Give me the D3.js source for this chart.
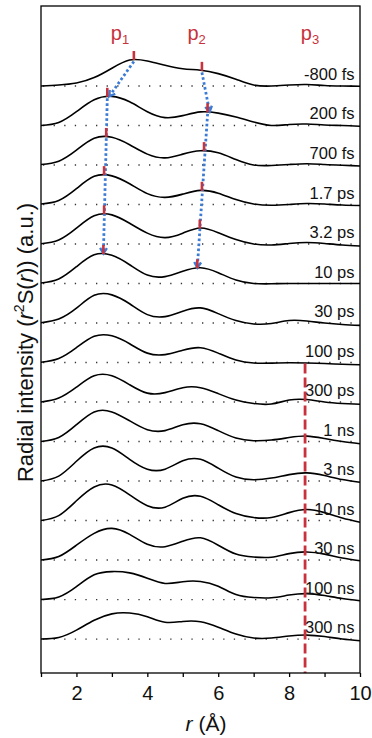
<!DOCTYPE html>
<html>
<head>
<meta charset="utf-8">
<script src="https://cdn.jsdelivr.net/npm/d3@7"></script>
<style>
  body { margin: 0; background: #fff; }
  svg { display: block; font-family: "Liberation Sans", Arial, sans-serif; }
</style>
</head>
<body>
<div id="chart"></div>
<script>
// r grid (Å)
const rValues = [1, 1.5, 2, 2.5, 3, 3.5, 4, 4.5, 5, 5.5, 6, 6.5, 7, 7.5, 8, 8.5, 9, 9.5, 10];

// delay labels, top to bottom
const delayLabels = ['-800 fs', '200 fs', '700 fs', '1.7 ps', '3.2 ps', '10 ps', '30 ps', '100 ps',
  '300 ps', '1 ns', '3 ns', '10 ns', '30 ns', '100 ns', '300 ns'];

// r^2 S(r) per delay (a.u., relative to each trace's own baseline)
const sNeg800fs = [0, 1, 3, 8.5, 18, 26.3, 25.3, 21, 17.5, 16, 12.5, 6.8, 1, 0, 1, 1.5, 0.5, 0, -0.3];
const s200fs = [0, 3, 14, 26, 29.5, 24, 14, 8, 10, 13.8, 12.5, 8.5, 3.5, 0, 1, 1.5, 0.5, 0, -0.7];
const s700fs = [0.5, 3.8, 15, 27, 28, 20.5, 11, 7.2, 11, 14.5, 12.3, 5.5, 0, -0.5, 0.5, 1.3, 0.5, -0.3, -1];
const s1p7ps = [0.5, 4, 16, 28.5, 29, 21, 11, 7.2, 10.5, 14.3, 11.5, 5, 0.5, -0.8, 0, 1, 0.5, -0.5, -1];
const s3p2ps = [0.3, 4, 16, 28.5, 29.5, 21, 11, 6.5, 11, 16.2, 11.5, 4.5, 0, -1, 0.5, 1.5, 0.5, -1, -2];
const s10ps = [0.5, 4.5, 17, 29, 28.5, 19, 8.5, 7, 12.5, 16, 11, 3.5, 0, -0.3, 0, 0, 0, 0, 0];
const s30ps = [0.3, 4, 15, 28, 28.5, 19.5, 8.5, 6.5, 12, 15.3, 9.5, 2.5, -1, -0.5, 2.5, 2, 0, -1.5, -2.4];
const s100ps = [0.3, 4, 15, 26.5, 27, 19, 9.5, 8, 12.5, 15, 9.5, 2.5, -0.5, -0.6, -0.3, -0.5, -1, -1.8, -2.3];
const s300ps = [0, 4, 15, 26.5, 26.5, 17.5, 9, 9.5, 14.5, 14.5, 8.5, 2, -1.5, -2, 2, 2.5, 0, -1.5, -2.3];
const s1ns = [0, 4, 17, 30, 30, 21, 12, 11, 17, 18, 11, 3.5, 0.8, 1.5, 4, 5.5, 3, 0, -2.3];
const s3ns = [0, 5, 20, 33.5, 33.5, 22, 12, 12, 20.5, 22, 13, 4, 1.3, 3, 6.5, 8.2, 5.5, 1.5, -1.3];
const s10ns = [0, 5, 20, 34, 36, 26, 15, 13.5, 22.5, 24.5, 16, 7, 3, 3, 8, 11.2, 8, 2.5, -1.7];
const s30ns = [0, 3.5, 15, 27, 32, 26, 16, 13.5, 19, 22.5, 15, 6, 3, 2.8, 6.5, 8.2, 6, 2, -0.7];
const s100ns = [0, 2.5, 13, 25, 28.3, 27, 21.5, 16.3, 18, 18.3, 13.5, 5, 2, 1.8, 4.5, 6, 4, 1, -1.3];
const s300ns = [0, 1.5, 9, 19, 25.5, 26.3, 22.5, 17, 17.8, 17.5, 12, 5, 1, 1, 3, 4, 2.5, 0, -1.7];

const traces = [sNeg800fs, s200fs, s700fs, s1p7ps, s3p2ps, s10ps, s30ps, s100ps,
  s300ps, s1ns, s3ns, s10ns, s30ns, s100ns, s300ns];

// vertical offset between traces (a.u.)
const traceStep = 40;

// peak positions (Å) marked on the first six traces
const p1Peaks = [3.62, 2.87, 2.84, 2.78, 2.78, 2.76];
const p2Peaks = [5.54, 5.7, 5.6, 5.54, 5.48, 5.41];
const p3Line = 8.45;
const peakNames = ['p', 'p', 'p'];
const peakSubs = ['1', '2', '3'];
const peakLabelR = [3.23, 5.39, 8.59];

const xTicks = [1, 2, 3, 4, 5, 6, 7, 8, 9, 10];
const xTickLabels = [2, 4, 6, 8, 10];

const width = 372, height = 738;
const plotLeft = 41, plotRight = 360, plotTop = 6, plotBottom = 673;
const red = '#c8323c', blue = '#3b7bd4';

const svg = d3.select('#chart').append('svg')
  .attr('width', width)
  .attr('height', height);

const x = d3.scaleLinear().domain([1, 10]).range([plotLeft, plotRight]);
const y = d3.scaleLinear().domain([-34.4, 641]).range([plotBottom, plotTop]);

const n = traces.length;
const offsetOf = (i) => (n - 1 - i) * traceStep;

// dotted baselines
svg.append('g')
  .selectAll('line')
  .data(traces)
  .enter()
  .append('line')
  .attr('x1', x(1) + 2)
  .attr('x2', x(10))
  .attr('y1', (d, i) => y(offsetOf(i)))
  .attr('y2', (d, i) => y(offsetOf(i)))
  .attr('stroke', '#333')
  .attr('stroke-width', 1.3)
  .attr('stroke-dasharray', '1.3,9.3');

// traces
const line = d3.line()
  .x((d) => x(d[0]))
  .y((d) => y(d[1]))
  .curve(d3.curveNatural);

const paths = svg.append('g')
  .selectAll('path')
  .data(traces)
  .enter()
  .append('path')
  .attr('d', (d, i) => line(d.map((v, k) => [rValues[k], v + offsetOf(i)])))
  .attr('fill', 'none')
  .attr('stroke', '#000')
  .attr('stroke-width', 1.6);

// find the y of a drawn trace at a given pixel x
function yOnTrace(i, px) {
  const node = paths.nodes()[i];
  let lo = 0, hi = node.getTotalLength();
  for (let it = 0; it < 40; it++) {
    const mid = (lo + hi) / 2;
    if (node.getPointAtLength(mid).x < px) lo = mid; else hi = mid;
  }
  return node.getPointAtLength(lo).y;
}

// delay labels
svg.append('g')
  .selectAll('text')
  .data(delayLabels)
  .enter()
  .append('text')
  .attr('x', 354.5)
  .attr('y', (d, i) => y(offsetOf(i)) - 6)
  .attr('text-anchor', 'end')
  .attr('font-size', 16.5)
  .attr('fill', '#111')
  .text((d) => d);

// blue dotted arrows between peak markers
function arrow(x1, y1, x2, y2) {
  const g = svg.append('g');
  const ang = Math.atan2(y2 - y1, x2 - x1);
  g.append('line')
    .attr('x1', x1).attr('y1', y1)
    .attr('x2', x2 - 2 * Math.cos(ang)).attr('y2', y2 - 2 * Math.sin(ang))
    .attr('stroke', blue)
    .attr('stroke-width', 2.8)
    .attr('stroke-dasharray', '2.6,2.4');
  const a = 6.5, spread = 0.55;
  g.append('path')
    .attr('d', `M${x2 - a * Math.cos(ang - spread)},${y2 - a * Math.sin(ang - spread)}L${x2},${y2}L${x2 - a * Math.cos(ang + spread)},${y2 - a * Math.sin(ang + spread)}`)
    .attr('fill', 'none')
    .attr('stroke', blue)
    .attr('stroke-width', 2.4);
}

[p1Peaks, p2Peaks].forEach((peaks) => {
  const last = peaks.length - 1;
  const pts = peaks.map((r, i) => [x(r), yOnTrace(i, x(r))]);
  arrow(pts[0][0], pts[0][1] + 2, pts[1][0] + 2, pts[1][1]);
  arrow(pts[1][0], pts[1][1] + 2, pts[last][0], pts[last][1]);
});

// red peak markers
[p1Peaks, p2Peaks].forEach((peaks) => {
  svg.append('g')
    .selectAll('line')
    .data(peaks)
    .enter()
    .append('line')
    .attr('x1', (d) => x(d))
    .attr('x2', (d) => x(d))
    .attr('y1', (d, i) => yOnTrace(i, x(d)) + 0.5)
    .attr('y2', (d, i) => yOnTrace(i, x(d)) - 8.5)
    .attr('stroke', red)
    .attr('stroke-width', 2.6);
});

// p3 dashed line from the 100 ps trace down
svg.append('line')
  .attr('x1', x(p3Line))
  .attr('x2', x(p3Line))
  .attr('y1', y(offsetOf(7)) + 1)
  .attr('y2', plotBottom)
  .attr('stroke', red)
  .attr('stroke-width', 2.8)
  .attr('stroke-dasharray', '10,4');

// peak names
const pText = svg.append('g')
  .selectAll('text')
  .data(peakNames)
  .enter()
  .append('text')
  .attr('x', (d, i) => x(peakLabelR[i]))
  .attr('y', 40)
  .attr('text-anchor', 'middle')
  .attr('font-size', 20)
  .attr('fill', red);
pText.append('tspan').text((d) => d);
pText.append('tspan')
  .attr('font-size', 13)
  .attr('dy', 4)
  .text((d, i) => peakSubs[i]);

// frame
svg.append('rect')
  .attr('x', plotLeft)
  .attr('y', plotTop)
  .attr('width', plotRight - plotLeft)
  .attr('height', plotBottom - plotTop)
  .attr('fill', 'none')
  .attr('stroke', '#000')
  .attr('stroke-width', 1.3);

// x axis
const xAxis = svg.append('g')
  .attr('transform', `translate(0,${plotBottom})`)
  .call(d3.axisBottom(x)
    .tickValues(xTicks)
    .tickSize(4)
    .tickPadding(9)
    .tickFormat((d) => (xTickLabels.includes(d) ? d : '')));
xAxis.select('.domain').remove();
xAxis.selectAll('line').attr('stroke', '#000').attr('stroke-width', 1.3);
xAxis.selectAll('text')
  .attr('font-size', 20)
  .attr('font-family', '"Liberation Sans", Arial, sans-serif')
  .attr('fill', '#111');

// x title
const xt = svg.append('text')
  .attr('x', 206)
  .attr('y', 731)
  .attr('text-anchor', 'middle')
  .attr('font-size', 21)
  .attr('fill', '#111');
xt.append('tspan').attr('font-style', 'italic').text('r');
xt.append('tspan').text(' (Å)');

// y title
const yt = svg.append('text')
  .attr('transform', `translate(33,${(plotTop + plotBottom) / 2 + 3}) rotate(-90)`)
  .attr('text-anchor', 'middle')
  .attr('font-size', 22)
  .attr('fill', '#111');
yt.append('tspan').text('Radial intensity (');
yt.append('tspan').attr('font-style', 'italic').text('r');
yt.append('tspan').attr('font-size', 14).attr('dy', -9).text('2');
yt.append('tspan').attr('dy', 9).text('S(');
yt.append('tspan').attr('font-style', 'italic').text('r');
yt.append('tspan').text(')) (a.u.)');
</script>
</body>
</html>
